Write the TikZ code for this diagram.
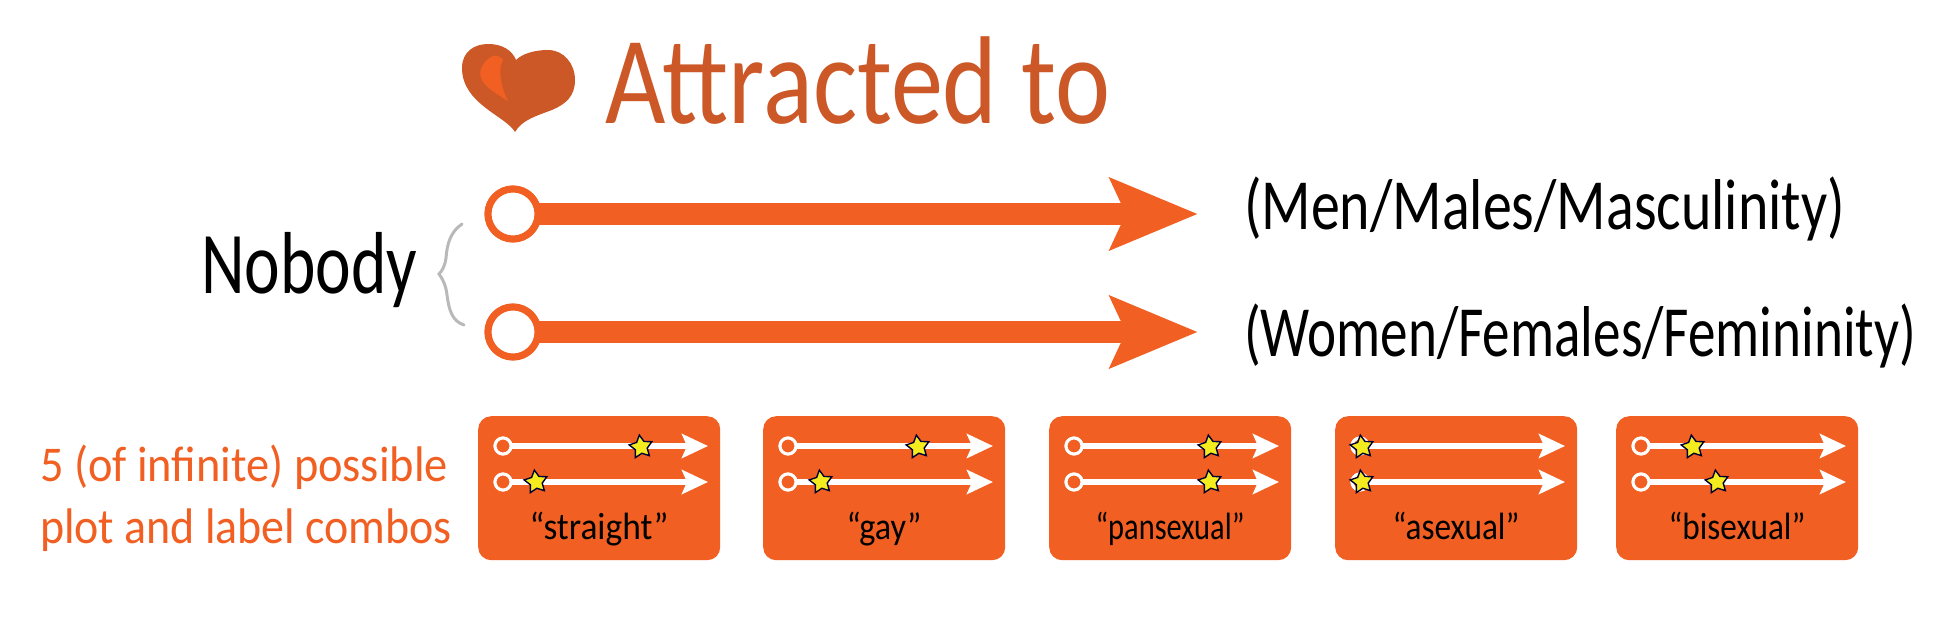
\documentclass[tikz,border=0pt]{standalone}
\usepackage{fontspec}
\usepackage{graphicx}
\setmainfont{Carlito}
\usetikzlibrary{arrows.meta,shapes.geometric}
\definecolor{org}{HTML}{F15F22}
\definecolor{rust}{HTML}{CC5827}
\definecolor{starY}{HTML}{F4EC1E}
\newcommand{\fitw}[2]{\resizebox{#1pt}{\height}{#2}}
\tikzset{
  x=1pt,y=-1pt,
  txt/.style={anchor=base west,inner sep=0pt,outer sep=0pt},
  bigline/.style={draw=org,line width=22pt,-{Stealth[length=87pt,width=70pt,inset=15pt]}},
  bigring/.style={circle,draw=org,line width=7pt,fill=white,minimum size=50pt,inner sep=0pt},
  card/.style={rectangle,fill=org,rounded corners=13pt,minimum width=242pt,minimum height=144pt,anchor=north west,inner sep=0pt},
  miniline/.style={draw=white,line width=6pt,-{Stealth[length=26pt,width=24pt,inset=5pt]}},
  miniring/.style={circle,draw=white,line width=3pt,fill=org,minimum size=16pt,inner sep=0pt},
  ministar/.style={star,star points=5,star point ratio=1.9,draw=black!80!blue,line width=1.4pt,fill=starY,minimum size=24pt,inner sep=0pt,shape border rotate=8},
}
\begin{document}
\begin{tikzpicture}
\useasboundingbox (0,0) rectangle (1951,623);
% heart
\fill[rust] (515,132) .. controls (506,116) and (462,104) .. (462,68)
  .. controls (462,52) and (474,44) .. (488,44)
  .. controls (502,44) and (512,50) .. (516,60)
  .. controls (522,54) and (534,50) .. (548,50)
  .. controls (564,50) and (575,64) .. (575,80)
  .. controls (575,96) and (566,104) .. (552,110)
  .. controls (536,116) and (522,120) .. (515,132) -- cycle;
\fill[org] (493,56) .. controls (484,60) and (478,70) .. (481,78)
  .. controls (485,88) and (497,94) .. (508,101)
  .. controls (502,90) and (497,70) .. (503,60)
  .. controls (500,56) and (496,55) .. (493,56) -- cycle;
\node[txt,text=rust,font=\fontsize{125}{125}\selectfont] (title) at (605,124) {\fitw{505}{Attracted to}};
% main arrows
\node[bigring] (r1) at (513,214) {};
\node[bigring] (r2) at (513,332) {};
\coordinate (t1) at (1198,214);
\coordinate (t2) at (1198,332);
\draw[bigline] (r1.center) -- (t1);
\draw[bigline] (r2.center) -- (t2);
\node[bigring] at (r1) {};
\node[bigring] at (r2) {};
\node[txt,font=\fontsize{72}{72}\selectfont] (men) at (1244,229) {\fitw{601}{(Men/Males/Masculinity)}};
\node[txt,font=\fontsize{72}{72}\selectfont] (women) at (1244,356) {\fitw{672}{(Women/Females/Femininity)}};
\node[txt,font=\fontsize{88}{88}\selectfont] (nobody) at (201,293) {\fitw{216}{Nobody}};
\draw[gray!55,line width=3pt,line cap=round] (462,224) .. controls (450,232) and (447,245) .. (446,258)
  .. controls (445,266) and (442,271) .. (439,274)
  .. controls (442,278) and (446,285) .. (447,295)
  .. controls (449,310) and (452,321) .. (464,325);
\node[txt,text=org,font=\fontsize{50}{50}\selectfont] (leftA) at (40,481) {\fitw{408}{5 (of infinite) possible}};
\node[txt,text=org,font=\fontsize{50}{50}\selectfont] (leftB) at (40,543) {\fitw{412}{plot and label combos}};
% cards: left edge / star 1 x / star 2 x / label / label width / id
\foreach \lx/\sa/\sb/\lab/\lw/\id in {478/641/536/straight/139/a,763/918/821/gay/75/b,1049/1210/1210/pansexual/149/c,1335/1362/1362/asexual/127/d,1616/1693/1717/bisexual/137/e}{
  \node[card] (card\id) at (\lx,416) {};
  \node[miniring] (ua\id) at (\lx+25,446) {};
  \node[miniring] (ub\id) at (\lx+25,482) {};
  \coordinate (ta\id) at (\lx+230,446);
  \coordinate (tb\id) at (\lx+230,482);
  \draw[miniline] (ua\id.center) -- (ta\id);
  \draw[miniline] (ub\id.center) -- (tb\id);
  \node[miniring] at (ua\id) {};
  \node[miniring] at (ub\id) {};
  \node[ministar] (sa\id) at (\sa,447) {};
  \node[ministar] (sb\id) at (\sb,482) {};
  \node[anchor=base,inner sep=0pt,font=\fontsize{38}{38}\selectfont] (lab\id) at (\lx+121,539) {\fitw{\lw}{“\lab”}};
}
\end{tikzpicture}
\end{document}
